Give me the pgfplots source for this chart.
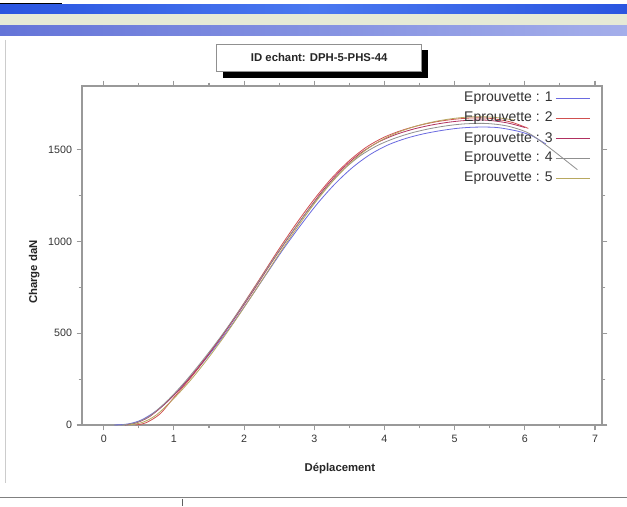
\documentclass[border=0pt]{standalone}
\usepackage{fontspec}
\setmainfont{Liberation Sans}
\usepackage{pgfplots}
\pgfplotsset{compat=1.18}

\definecolor{eBlue}{HTML}{6A6AE0}
\definecolor{eRed}{HTML}{D05050}
\definecolor{eWine}{HTML}{B03060}
\definecolor{eGray}{HTML}{909090}
\definecolor{eOlive}{HTML}{B8A860}
\definecolor{frame}{HTML}{999999}
\definecolor{winBlue}{HTML}{2A55E0}
\definecolor{winBlueHi}{HTML}{4A78F0}
\definecolor{menuBg}{HTML}{E6EAD6}
\definecolor{barL}{HTML}{6474D8}
\definecolor{barR}{HTML}{A4AEEA}
\definecolor{boxLine}{HTML}{909090}
\definecolor{statLine}{HTML}{808080}
\definecolor{statSep}{HTML}{606060}

\begin{document}
\begin{tikzpicture}
% page = 627 x 506 px, 1 px = 0.75pt, y downwards
\useasboundingbox (0,0) rectangle (470.25pt,-379.5pt);
\fill[white] (0,0) rectangle (470.25pt,-379.5pt);
% window chrome
\fill[black] (0,-2pt) rectangle (46.5pt,-3.3pt);
\shade[left color=winBlue, right color=winBlue, middle color=winBlueHi]
  (0,-3.75pt) rectangle (470.25pt,-10.5pt);
\fill[menuBg] (0,-10.5pt) rectangle (470.25pt,-18.75pt);
\shade[left color=barL, right color=barR] (0,-19.5pt) rectangle (470.25pt,-27pt);
\draw[gray!40] (3.75pt,-30pt) -- (3.75pt,-362pt);
\draw[statLine, line width=1.2pt] (0,-373pt) -- (470.25pt,-373pt);
\draw[statSep] (137pt,-374pt) -- (137pt,-379.5pt);
% title box
\fill[black] (167pt,-37.5pt) rectangle (321pt,-58.3pt);
\draw[boxLine, fill=white] (162.5pt,-33pt) rectangle (316.3pt,-53.8pt);
\node[font=\fontsize{8.5}{10}\selectfont\bfseries, text=black!85] at (239.4pt,-43.4pt) {ID echant: DPH-5-PHS-44};

\begin{axis}[
  at={(61.5pt,-318.75pt)}, anchor=south west,
  scale only axis, width=390pt, height=254.25pt,
  xmin=-0.31, xmax=7.1, ymin=0, ymax=1846,
  xtick={0,1,...,7}, ytick={0,500,1000,1500},
  minor x tick num=1, minor y tick num=1,
  tick align=outside,
  major tick length=4pt, minor tick length=2.5pt,
  axis line style={frame, line width=1pt},
  every tick/.style={frame, line width=0.8pt},
  tick label style={font=\fontsize{8}{9}\selectfont, text=black!80},
  /pgf/number format/assume math mode=true,
  scaled y ticks=false,
  yticklabel style={/pgf/number format/1000 sep={}},
  xlabel={Déplacement}, ylabel={Charge daN},
  label style={font=\fontsize{8.5}{10}\selectfont\bfseries, text=black!85},
  xlabel style={at={(axis description cs:0.496,-0.127)}, anchor=center},
  ylabel style={at={(axis description cs:-0.092,0.451)}, anchor=center},
  legend plot pos=right,
  legend cell align=right,
  legend image code/.code={\draw[#1] (0pt,0pt) -- (26pt,0pt);},
  legend style={at={(axis description cs:0.979,0.99)}, anchor=north east,
    draw=none, fill=none, font=\fontsize{10.5}{12}\selectfont, text=black!80,
    row sep=2.2pt, inner sep=0pt},
  every axis plot/.append style={line width=0.6pt, smooth},
]
\addplot[eBlue] coordinates {
 (0.15,0) (0.35,6) (0.55,30) (0.80,92) (1.05,183) (1.30,288) (1.55,406)
 (1.80,533) (2.05,670) (2.30,812) (2.55,953) (2.80,1085) (3.05,1208)
 (3.30,1315) (3.55,1404) (3.80,1474) (4.05,1525) (4.30,1560) (4.55,1585)
 (4.80,1603) (5.05,1616) (5.30,1622) (5.60,1620) (5.90,1600) (6.10,1575) (6.30,1530)};
\addplot[eRed] coordinates {
 (0.45,0) (0.60,12) (0.80,60) (1.00,150) (1.25,262) (1.50,388) (1.75,522)
 (2.00,665) (2.25,812) (2.50,960) (2.75,1100) (3.00,1230) (3.25,1345)
 (3.50,1440) (3.75,1515) (4.00,1568) (4.25,1605) (4.50,1632) (4.75,1652)
 (5.00,1665) (5.25,1672) (5.50,1670) (5.80,1650) (6.05,1615)};
\addplot[eWine] coordinates {
 (0.30,0) (0.45,10) (0.65,45) (0.90,125) (1.15,225) (1.40,340) (1.65,465)
 (1.90,600) (2.15,742) (2.40,890) (2.65,1030) (2.90,1165) (3.15,1290)
 (3.40,1395) (3.65,1478) (3.90,1538) (4.15,1580) (4.40,1610) (4.65,1632)
 (4.90,1648) (5.15,1658) (5.45,1660) (5.75,1645) (6.00,1620)};
\addplot[eGray] coordinates {
 (0.25,0) (0.45,12) (0.65,48) (0.90,130) (1.15,232) (1.40,348) (1.65,472)
 (1.90,606) (2.15,748) (2.40,893) (2.65,1032) (2.90,1163) (3.15,1282)
 (3.40,1385) (3.65,1465) (3.90,1522) (4.15,1562) (4.40,1592) (4.65,1614)
 (4.90,1630) (5.15,1640) (5.45,1642) (5.75,1628) (6.05,1590) (6.35,1510) (6.75,1390)};
\addplot[eOlive] coordinates {
 (0.35,0) (0.55,14) (0.75,55) (1.00,145) (1.25,250) (1.50,370) (1.75,500)
 (2.00,640) (2.25,785) (2.50,932) (2.75,1072) (3.00,1205) (3.25,1322)
 (3.50,1422) (3.75,1502) (4.00,1560) (4.25,1602) (4.50,1633) (4.75,1655)
 (5.00,1670) (5.25,1678) (5.55,1676) (5.85,1660)};
\legend{Eprouvette : 1, Eprouvette : 2, Eprouvette : 3, Eprouvette : 4, Eprouvette : 5}
\end{axis}
\end{tikzpicture}
\end{document}
